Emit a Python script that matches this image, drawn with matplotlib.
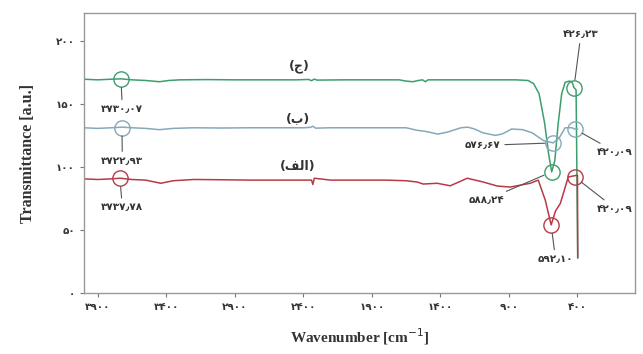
import matplotlib.pyplot as plt
import numpy as np

# spectra (wavenumber, transmittance)
wn_jim = [4000, 3900, 3800, 3730, 3650, 3550, 3450, 3380, 3300, 3100, 2900, 2700, 2450,
          2360, 2340, 2320, 2300, 2100, 1900, 1700, 1650, 1600, 1560, 1530, 1510, 1490,
          1400, 1200, 1000, 850, 760, 720, 680, 640, 610, 588, 565, 540, 515, 490, 460,
          440, 426, 410, 398]
t_jim = [169.5, 169, 169.5, 169.8, 169, 168.5, 167.5, 168.5, 169, 169.2, 169, 169, 169,
         169.3, 168.3, 169.6, 168.8, 169, 169, 169, 168, 167.5, 168.5, 169, 167.5, 169,
         169, 169, 169, 169, 168.5, 166, 158, 135, 110, 96, 105, 135, 158, 167, 168,
         167.5, 163, 161, 28]

wn_be = [4000, 3900, 3800, 3723, 3650, 3550, 3450, 3350, 3200, 3000, 2800, 2600, 2400,
         2350, 2330, 2310, 2200, 2000, 1800, 1650, 1570, 1500, 1420, 1350, 1250, 1200,
         1150, 1090, 1000, 950, 880, 800, 730, 650, 577, 530, 490, 440, 420, 400]
t_be = [131, 130.5, 131, 131.5, 131, 130.5, 129.5, 130.5, 131, 130.8, 131, 131, 131,
        131.3, 132.2, 130.7, 131, 131, 131, 131, 129, 128, 126, 127.5, 131, 131.5,
        130, 127, 125, 126, 130, 129.5, 127, 121, 119, 123.5, 131, 131, 130, 130]

wn_alef = [4000, 3900, 3800, 3737, 3650, 3550, 3440, 3350, 3200, 3000, 2790, 2600, 2400,
           2340, 2330, 2320, 2200, 2000, 1800, 1650, 1570, 1525, 1423, 1328, 1204, 1088,
           985, 890, 745, 686, 635, 592, 560, 525, 467, 420, 400, 398]
t_alef = [90.5, 90, 90.5, 91, 90, 89.5, 87, 89, 90, 89.8, 89.5, 89.5, 89.5,
          89.5, 86, 91, 89.5, 89.5, 89.5, 89, 88, 86.4, 87, 85, 91, 88,
          84.8, 84, 87, 89.5, 73.7, 54, 65, 71, 92, 93, 93.5, 28]

# marked peaks: (wavenumber, transmittance, label position)
peak_wn = [3730.07, 3722.93, 3737.78, 426.23, 576.67, 588.24, 592.10, 420.09, 420.09]
peak_t = [169.5, 131.2, 90.8, 162.5, 119, 96, 54, 130, 92]
peak_series = ['jim', 'be', 'alef', 'jim', 'be', 'jim', 'alef', 'be', 'alef']
label_xy = [(3720, 146), (3720, 105), (3720, 68), (375, 205), (960, 117),
            (930, 74), (560, 27), (255, 112), (255, 67)]

x_ticks = [3900, 3400, 2900, 2400, 1900, 1400, 900, 400]
y_ticks = [0, 50, 100, 150, 200]

colors = {'jim': '#3c9e6f', 'be': '#86a9ba', 'alef': '#b83a45'}
names = {'jim': '(\ufe9d)', 'be': '(\ufe8f)', 'alef': '(\ufed2\ufedf\ufe8d)'}
name_xy = {'jim': (2430, 180), 'be': (2440, 138), 'alef': (2440, 100)}

fa = str.maketrans('0123456789.', '۰۱۲۳۴۵۶۷۸۹٫')


def persian(v):
    return v.translate(fa)


plt.rcParams['font.family'] = ['DejaVu Sans']
fig = plt.figure(figsize=(6.43, 3.54), dpi=100)
ax = fig.add_axes([0.1306, 0.1723, 0.857, 0.791])

ax.plot(wn_jim, t_jim, color=colors['jim'], lw=1.1)
ax.plot(wn_be, t_be, color=colors['be'], lw=1.1)
ax.plot(wn_alef, t_alef, color=colors['alef'], lw=1.1)

for k in names:
    ax.text(name_xy[k][0], name_xy[k][1], names[k], ha='center', va='center',
            fontsize=9, fontweight='bold', color='#333333')

for w, t, s, (lx, ly) in zip(peak_wn, peak_t, peak_series, label_xy):
    ax.plot(w, t, 'o', ms=11, mfc='none', mec=colors[s], mew=1.0)
    if lx < 1000 and lx > 700:
        ha, va = 'right', 'center'
    elif lx < 300:
        ha, va = 'left', 'center'
    else:
        ha, va = 'center', 'center'
    ax.annotate(persian('%.2f' % w), xy=(w, t), xytext=(lx, ly),
                ha=ha, va=va, fontsize=7.5, fontweight='bold', color='#333333',
                annotation_clip=False,
                arrowprops=dict(arrowstyle='-', color='#555555', lw=0.8,
                                shrinkA=1, shrinkB=6))

ax.set_xlim(4000, -20)
ax.set_ylim(0, 222)
ax.set_xticks(x_ticks)
ax.set_xticklabels([persian(str(v)) for v in x_ticks], fontsize=7.5, fontweight='bold')
ax.set_yticks(y_ticks)
ax.set_yticklabels([persian(str(v)) for v in y_ticks], fontsize=7.5, fontweight='bold')
ax.tick_params(length=3, width=0.8, color='#777777', labelcolor='#333333')

for sp in ax.spines.values():
    sp.set_color('#999999')
    sp.set_linewidth(1.0)

ax.set_xlabel('Wavenumber [cm$^{-1}$]', fontsize=11, fontweight='bold',
              family='Liberation Serif', color='#333333', labelpad=10)
ax.set_ylabel('Transmittance [a.u.]', fontsize=11.5, fontweight='bold',
              family='Liberation Serif', color='#333333', labelpad=14)

fig.savefig('out.png', dpi=100)
